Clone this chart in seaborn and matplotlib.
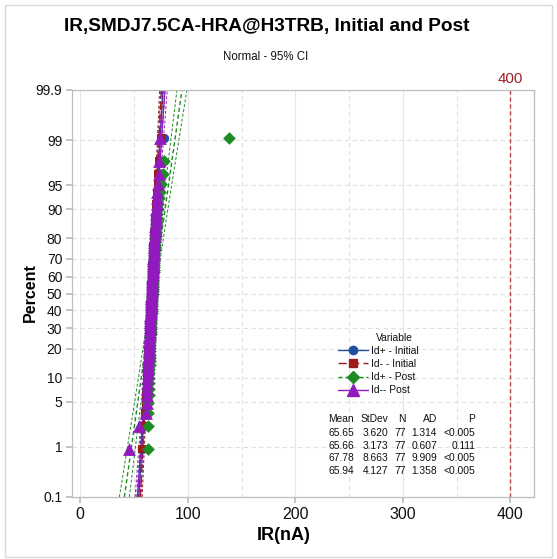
import numpy as np
import pandas as pd
import matplotlib.pyplot as plt
import seaborn as sns
from statistics import NormalDist
from matplotlib.lines import Line2D
from matplotlib.patches import Rectangle

# Series (sorted IR readings, nA)
id_plus_initial = [
    57.0, 58.6, 60.1, 60.8, 61.3, 61.6, 61.9, 62.1, 62.3, 62.4,
    62.7, 62.8, 63.0, 63.1, 63.2, 63.4, 63.5, 63.6, 63.6, 63.8,
    63.9, 64.0, 64.1, 64.2, 64.3, 64.4, 64.5, 64.6, 64.6, 64.8,
    64.9, 65.0, 65.1, 65.2, 65.3, 65.4, 65.5, 65.6, 65.7, 65.8,
    65.9, 66.0, 66.1, 66.2, 66.3, 66.4, 66.5, 66.6, 66.7, 66.8,
    66.9, 67.0, 67.1, 67.3, 67.4, 67.5, 67.7, 67.8, 68.0, 68.1,
    68.3, 68.5, 68.7, 68.9, 69.1, 69.3, 69.6, 69.9, 70.2, 70.5,
    70.9, 71.4, 72.0, 72.8, 73.8, 75.0, 77.5]
id_minus_initial = [
    57.5, 59.0, 60.2, 60.9, 61.4, 61.8, 62.1, 62.3, 62.5, 62.7,
    62.9, 63.0, 63.2, 63.3, 63.4, 63.5, 63.7, 63.8, 63.9, 64.0,
    64.1, 64.2, 64.3, 64.4, 64.5, 64.6, 64.7, 64.8, 64.9, 65.0,
    65.1, 65.2, 65.3, 65.4, 65.5, 65.6, 65.7, 65.8, 65.9, 66.0,
    66.1, 66.2, 66.3, 66.4, 66.5, 66.6, 66.7, 66.8, 66.9, 67.0,
    67.1, 67.2, 67.3, 67.4, 67.5, 67.6, 67.8, 67.9, 68.1, 68.2,
    68.4, 68.6, 68.8, 69.0, 69.2, 69.4, 69.6, 69.8, 70.1, 70.4,
    70.7, 71.0, 71.4, 71.9, 72.5, 73.2, 75.0]
id_plus_post = [
    62.6, 62.6, 63.0, 63.3, 63.5, 63.7, 63.9, 64.0, 64.1, 64.2,
    64.4, 64.5, 64.6, 64.7, 64.8, 64.9, 65.0, 65.1, 65.2, 65.3,
    65.4, 65.5, 65.6, 65.7, 65.8, 65.9, 66.0, 66.1, 66.2, 66.3,
    66.4, 66.5, 66.6, 66.7, 66.8, 66.9, 67.0, 67.1, 67.2, 67.3,
    67.4, 67.5, 67.6, 67.7, 67.8, 67.9, 68.0, 68.1, 68.2, 68.3,
    68.4, 68.5, 68.6, 68.7, 68.8, 68.9, 69.0, 69.2, 69.4, 69.5,
    69.7, 69.9, 70.1, 70.3, 70.5, 70.8, 71.1, 71.4, 71.8, 72.2,
    72.7, 73.3, 74.0, 75.0, 76.5, 78.0, 138.0]
id_minus_post = [
    45.0, 54.3, 61.0, 62.0, 62.0, 62.1, 62.3, 62.4, 62.6, 62.9,
    63.0, 63.2, 63.4, 63.5, 63.7, 63.8, 63.9, 64.1, 64.2, 64.3,
    64.5, 64.6, 64.7, 64.8, 64.9, 65.0, 65.1, 65.2, 65.3, 65.4,
    65.5, 65.6, 65.7, 65.8, 65.9, 66.0, 66.1, 66.2, 66.3, 66.4,
    66.5, 66.6, 66.7, 66.8, 66.9, 67.0, 67.1, 67.2, 67.3, 67.4,
    67.5, 67.7, 67.8, 67.9, 68.0, 68.2, 68.3, 68.4, 68.6, 68.7,
    68.9, 69.0, 69.2, 69.4, 69.6, 69.8, 70.0, 70.3, 70.5, 70.7,
    71.0, 71.3, 71.8, 72.4, 73.5, 73.6, 74.4]

variables = ['Id+ - Initial', 'Id- - Initial', 'Id+ - Post', 'Id-- Post']
series = [id_plus_initial, id_minus_initial, id_plus_post, id_minus_post]

# summary table
means = [65.65, 65.66, 67.78, 65.94]
stdevs = [3.620, 3.173, 8.663, 4.127]
counts = [77, 77, 77, 77]
ad_values = [1.314, 0.607, 9.909, 1.358]
p_values = ['<0.005', '0.111', '<0.005', '<0.005']

pct_ticks = [0.1, 1, 5, 10, 20, 30, 40, 50, 60, 70, 80, 90, 95, 99, 99.9]
x_ticks = [0, 100, 200, 300, 400]
spec_limit = 400

colors = ['#1F4FA0', '#9C1C1C', '#1E8B24', '#9119BE']
markers = ['o', 's', 'D', '^']
msizes = [45, 40, 42, 85]
fit_styles = ['-', (0, (6, 3)), (0, (3, 2)), '-']

W, H = 557, 559
def fx(x):
    return x / W
def fy(y):
    return 1 - y / H

nd = NormalDist()
def zq(p):
    return nd.inv_cdf(p)

# long-format table with normal plotting positions (median ranks)
rows = []
for name, vals in zip(variables, series):
    n = len(vals)
    for i, v in enumerate(sorted(vals), start=1):
        rows.append({'Variable': name, 'IR': v, 'z': zq((i - 0.3) / (n + 0.4))})
df = pd.DataFrame(rows)

sns.set_theme(style='white')
plt.rcParams['font.family'] = ['Liberation Sans', 'DejaVu Sans']
plt.rcParams['text.color'] = '#111111'

fig = plt.figure(figsize=(W / 100, H / 100), dpi=100)
ax = fig.add_axes([fx(72), fy(497), fx(534) - fx(72), fy(90) - fy(497)])

zlo, zhi = zq(0.001), zq(0.999)
zz = np.linspace(zlo, zhi, 80)

# fitted lines + 95% CI
for m, s, n, c, ls in zip(means, stdevs, counts, colors, fit_styles):
    fit = m + s * zz
    se = s * np.sqrt(1 / n + zz ** 2 / (2 * n))
    ax.plot(fit, zz, color=c, ls=ls, lw=1.0, zorder=2)
    ax.plot(fit - 1.96 * se, zz, color=c, ls=(0, (3, 2)), lw=0.7, zorder=2)
    ax.plot(fit + 1.96 * se, zz, color=c, ls=(0, (3, 2)), lw=0.7, zorder=2)

for name, c, mk, sz in zip(variables, colors, markers, msizes):
    sns.scatterplot(data=df[df['Variable'] == name], x='IR', y='z', color=c,
                    marker=mk, s=sz, linewidth=0, legend=False, ax=ax, zorder=3)

ax.axvline(spec_limit, color='#B5474A', ls=(0, (3, 2)), lw=1.0, zorder=1)

ax.set_xlim(-7.7, 422)
ax.set_ylim(zlo, zhi)
ax.set_xticks(x_ticks)
ax.set_xticks([50, 150, 250, 350], minor=True)
ax.set_yticks([zq(p / 100) for p in pct_ticks])
ax.set_yticklabels([f'{p:g}' for p in pct_ticks])
ax.set_xlabel('')
ax.set_ylabel('')

ax.grid(axis='x', which='major', color='#E6E6E6', lw=0.8, ls='-')
ax.grid(axis='x', which='minor', color='#E0E0E0', lw=0.8, ls=(0, (4, 3)))
ax.grid(axis='y', which='major', color='#E0E0E0', lw=0.8, ls=(0, (4, 3)))

for sp in ax.spines.values():
    sp.set_color('#BDBDBD')
    sp.set_linewidth(0.9)
ax.tick_params(axis='x', which='major', labelsize=11.5, length=4, color='#BDBDBD',
               bottom=True, pad=3, labelcolor='#111111')
ax.tick_params(axis='x', which='minor', bottom=False)
ax.tick_params(axis='y', labelsize=10, length=4, color='#BDBDBD', left=True, pad=3,
               labelcolor='#111111')

# titles and labels
fig.text(fx(266.5), fy(26), 'IR,SMDJ7.5CA-HRA@H3TRB, Initial and Post',
         ha='center', va='center', fontsize=13.7, fontweight='bold', color='black')
fig.text(fx(266), fy(57), 'Normal - 95% CI', ha='center', va='center', fontsize=8.3)
fig.text(fx(284), fy(536), 'IR(nA)', ha='center', va='center', fontsize=13,
         fontweight='bold', color='black')
fig.text(fx(30), fy(293), 'Percent', ha='center', va='center', rotation=90,
         fontsize=11.5, fontweight='bold', color='black')
ax.text(spec_limit, 1.01, f'{spec_limit}', transform=ax.get_xaxis_transform(),
        ha='center', va='bottom', fontsize=10.8, color='#9E1F1F')

# legend
fig.text(fx(376), fy(338), 'Variable', ha='left', va='center', fontsize=7.4)
handles = [Line2D([], [], color=c, ls=ls, lw=1, marker=mk, markersize=ms)
           for c, ls, mk, ms in zip(colors, fit_styles, markers, [6, 6, 6, 9])]
fig.legend(handles, variables, loc='upper left', bbox_to_anchor=(fx(338), fy(346)),
           frameon=False, fontsize=7.4, handlelength=2.9, handletextpad=0.3,
           labelspacing=0.3, borderpad=0, borderaxespad=0)

# summary table
col_right = [354, 388, 406, 437, 475]
headers = ['Mean', 'StDev', 'N', 'AD', 'P']
for x, h in zip(col_right, headers):
    fig.text(fx(x), fy(419), h, ha='right', va='center', fontsize=7.4)
for k in range(len(variables)):
    y = 433 + 12.6 * k
    cells = [f'{means[k]:.2f}', f'{stdevs[k]:.3f}', f'{counts[k]}',
             f'{ad_values[k]:.3f}', p_values[k]]
    for x, t in zip(col_right, cells):
        fig.text(fx(x), fy(y), t, ha='right', va='center', fontsize=7.4)

# graph frame
fig.patches.append(Rectangle((fx(5), fy(557)), fx(552) - fx(5), fy(5) - fy(557),
                             transform=fig.transFigure, fill=False,
                             edgecolor='#D9D9D9', lw=1))

fig.savefig('out.png', dpi=100)
